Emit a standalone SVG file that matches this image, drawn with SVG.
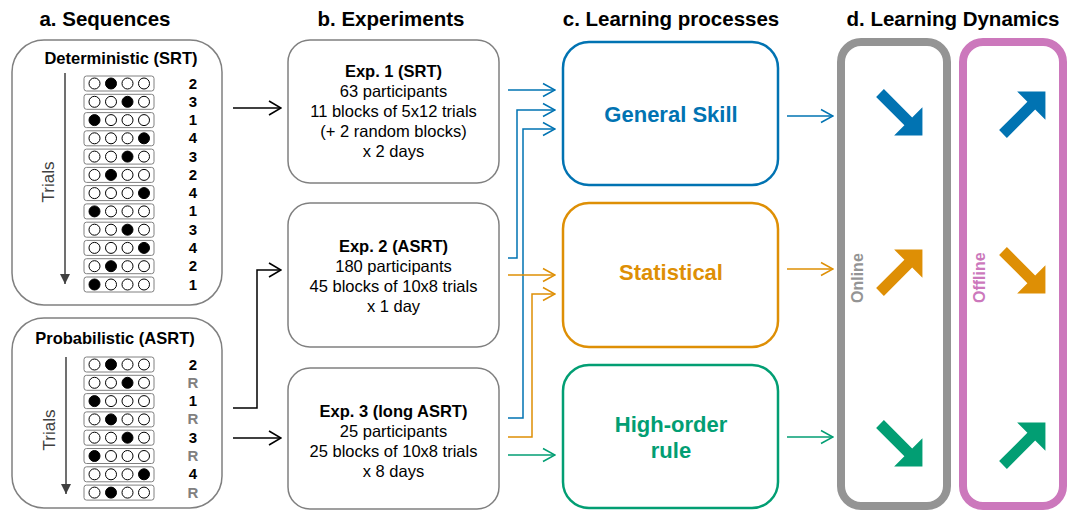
<svg xmlns="http://www.w3.org/2000/svg" xmlns:xlink="http://www.w3.org/1999/xlink" width="1067" height="511" viewBox="0 0 1067 511">
<style>
text{font-family:"Liberation Sans",Arial,sans-serif;}
.title{font-size:20.5px;font-weight:bold;text-anchor:middle;fill:#000;}
.seqbox{fill:#fff;stroke:#808080;stroke-width:1.5;}
.seqlabel{font-size:16.5px;font-weight:bold;text-anchor:middle;}
.row{fill:#fff;stroke:#808080;stroke-width:1;}
.c0{fill:#fff;stroke:#000;stroke-width:1;}
.c1{fill:#000;stroke:#000;stroke-width:1;}
.num{font-size:15px;font-weight:bold;text-anchor:middle;fill:#000;}
.r{fill:#808080;}
.trials{font-size:17px;text-anchor:middle;fill:#404040;}
.axis{stroke:#404040;stroke-width:1.5;fill:none;}
.expbox{fill:#fff;stroke:#808080;stroke-width:1.5;}
.exp{font-size:16.5px;text-anchor:middle;fill:#000;}
.expb{font-weight:bold;}
.proc{fill:#fff;stroke-width:2.5;}
.plabel{font-size:22px;font-weight:bold;text-anchor:middle;}
.conn{fill:none;stroke-width:1.5;}
.k{stroke:#000;}
.b{stroke:#0173B2;}
.o{stroke:#DE8F05;}
.g{stroke:#029E73;}
.fb{fill:#0173B2;}
.fo{fill:#DE8F05;}
.fg{fill:#029E73;}
.dyn{fill:none;stroke-width:8;}
.dlabel{font-size:16px;font-weight:bold;}
</style>
<defs>
<marker id="ak" viewBox="0 0 14 16" refX="13" refY="8" markerWidth="14" markerHeight="16" markerUnits="userSpaceOnUse" orient="auto"><path d="M1,1 L13,8 L1,15" fill="none" stroke="#000" stroke-width="1.6"/></marker>
<marker id="ab" viewBox="0 0 14 16" refX="13" refY="8" markerWidth="14" markerHeight="16" markerUnits="userSpaceOnUse" orient="auto"><path d="M1,1.5 L13,8 L1,14.5" fill="none" stroke="#0173B2" stroke-width="1.5"/></marker>
<marker id="ao" viewBox="0 0 14 16" refX="13" refY="8" markerWidth="14" markerHeight="16" markerUnits="userSpaceOnUse" orient="auto"><path d="M1,1.5 L13,8 L1,14.5" fill="none" stroke="#DE8F05" stroke-width="1.5"/></marker>
<marker id="ag" viewBox="0 0 14 16" refX="13" refY="8" markerWidth="14" markerHeight="16" markerUnits="userSpaceOnUse" orient="auto"><path d="M1,1.5 L13,8 L1,14.5" fill="none" stroke="#029E73" stroke-width="1.5"/></marker>
<path id="bigarrow" d="M0,-5.5 L40,-5.5 L40,-20 L60,0 L40,20 L40,5.5 L0,5.5 Z"/>
<g id="r1"><rect class="row" x="84" y="-7.5" width="70" height="15" rx="2.5"/><circle class="c1" cx="94.5" cy="0" r="5.5"/><circle class="c0" cx="111" cy="0" r="5.5"/><circle class="c0" cx="127.5" cy="0" r="5.5"/><circle class="c0" cx="144" cy="0" r="5.5"/></g>
<g id="r2"><rect class="row" x="84" y="-7.5" width="70" height="15" rx="2.5"/><circle class="c0" cx="94.5" cy="0" r="5.5"/><circle class="c1" cx="111" cy="0" r="5.5"/><circle class="c0" cx="127.5" cy="0" r="5.5"/><circle class="c0" cx="144" cy="0" r="5.5"/></g>
<g id="r3"><rect class="row" x="84" y="-7.5" width="70" height="15" rx="2.5"/><circle class="c0" cx="94.5" cy="0" r="5.5"/><circle class="c0" cx="111" cy="0" r="5.5"/><circle class="c1" cx="127.5" cy="0" r="5.5"/><circle class="c0" cx="144" cy="0" r="5.5"/></g>
<g id="r4"><rect class="row" x="84" y="-7.5" width="70" height="15" rx="2.5"/><circle class="c0" cx="94.5" cy="0" r="5.5"/><circle class="c0" cx="111" cy="0" r="5.5"/><circle class="c0" cx="127.5" cy="0" r="5.5"/><circle class="c1" cx="144" cy="0" r="5.5"/></g>
<marker id="axhead" viewBox="0 0 10 10" refX="5" refY="10" markerWidth="10" markerHeight="10" markerUnits="userSpaceOnUse" orient="0"><path d="M0,0 L10,0 L5,10 Z" fill="#404040"/></marker>
</defs>
<rect width="1067" height="511" fill="#fff"/>

<g id="titles">
<text class="title" x="105" y="26">a. Sequences</text>
<text class="title" x="391" y="26">b. Experiments</text>
<text class="title" x="671" y="26">c. Learning processes</text>
<text class="title" x="953" y="26">d. Learning Dynamics</text>
</g>

<g id="seq-deterministic">
<rect class="seqbox" x="12" y="40" width="210" height="265" rx="32"/>
<text class="seqlabel" x="121" y="64">Deterministic (SRT)</text>
<path class="axis" d="M65,73 V284" marker-end="url(#axhead)"/>
<text class="trials" transform="translate(54,182) rotate(-90)">Trials</text>
<use href="#r2" y="83.5"/><text class="num" x="193" y="88.5">2</text>
<use href="#r3" y="101.8"/><text class="num" x="193" y="106.8">3</text>
<use href="#r1" y="120.1"/><text class="num" x="193" y="125.1">1</text>
<use href="#r4" y="138.3"/><text class="num" x="193" y="143.3">4</text>
<use href="#r3" y="156.6"/><text class="num" x="193" y="161.6">3</text>
<use href="#r2" y="174.9"/><text class="num" x="193" y="179.9">2</text>
<use href="#r4" y="193.1"/><text class="num" x="193" y="198.1">4</text>
<use href="#r1" y="211.4"/><text class="num" x="193" y="216.4">1</text>
<use href="#r3" y="229.7"/><text class="num" x="193" y="234.7">3</text>
<use href="#r4" y="247.9"/><text class="num" x="193" y="252.9">4</text>
<use href="#r2" y="266.2"/><text class="num" x="193" y="271.2">2</text>
<use href="#r1" y="284.5"/><text class="num" x="193" y="289.5">1</text>
</g>

<g id="seq-probabilistic">
<rect class="seqbox" x="12" y="318" width="210" height="190" rx="32"/>
<text class="seqlabel" x="115" y="344">Probabilistic (ASRT)</text>
<path class="axis" d="M66,357 V494" marker-end="url(#axhead)"/>
<text class="trials" transform="translate(55,430) rotate(-90)">Trials</text>
<use href="#r2" y="364.5"/><text class="num" x="193" y="369.5">2</text>
<use href="#r3" y="382.8"/><text class="num r" x="193" y="387.8">R</text>
<use href="#r1" y="401.1"/><text class="num" x="193" y="406.1">1</text>
<use href="#r2" y="419.4"/><text class="num r" x="193" y="424.4">R</text>
<use href="#r3" y="437.7"/><text class="num" x="193" y="442.7">3</text>
<use href="#r1" y="456"/><text class="num r" x="193" y="461">R</text>
<use href="#r4" y="474.3"/><text class="num" x="193" y="479.3">4</text>
<use href="#r2" y="492.6"/><text class="num r" x="193" y="497.6">R</text>
</g>

<g id="exp1">
<rect class="expbox" x="288" y="40" width="211" height="143" rx="22"/>
<text class="exp expb" x="393.5" y="77">Exp. 1 (SRT)</text>
<text class="exp" x="393.5" y="97">63 participants</text>
<text class="exp" x="393.5" y="117">11 blocks of 5x12 trials</text>
<text class="exp" x="393.5" y="137">(+ 2 random blocks)</text>
<text class="exp" x="393.5" y="157">x 2 days</text>
</g>
<g id="exp2">
<rect class="expbox" x="288" y="203" width="211" height="144" rx="22"/>
<text class="exp expb" x="393.5" y="252">Exp. 2 (ASRT)</text>
<text class="exp" x="393.5" y="272">180 participants</text>
<text class="exp" x="393.5" y="292">45 blocks of 10x8 trials</text>
<text class="exp" x="393.5" y="312">x 1 day</text>
</g>
<g id="exp3">
<rect class="expbox" x="288" y="368" width="211" height="141" rx="22"/>
<text class="exp expb" x="393.5" y="417">Exp. 3 (long ASRT)</text>
<text class="exp" x="393.5" y="437">25 participants</text>
<text class="exp" x="393.5" y="457">25 blocks of 10x8 trials</text>
<text class="exp" x="393.5" y="477">x 8 days</text>
</g>

<g id="proc-general">
<rect class="proc b" x="563" y="42" width="215" height="143" rx="26"/>
<text class="plabel" x="671" y="122" fill="#0173B2">General Skill</text>
</g>
<g id="proc-statistical">
<rect class="proc o" x="563" y="203" width="215" height="144" rx="26"/>
<text class="plabel" x="671" y="280" fill="#DE8F05">Statistical</text>
</g>
<g id="proc-highorder">
<rect class="proc g" x="563" y="365" width="215" height="143" rx="26"/>
<text class="plabel" x="671" y="432" fill="#029E73">High-order</text>
<text class="plabel" x="671" y="458" fill="#029E73">rule</text>
</g>

<g id="dyn-online">
<rect class="dyn" x="841" y="42" width="106" height="464" rx="20" stroke="#949494"/>
<text class="dlabel" transform="translate(863,303) rotate(-90)" fill="#949494">Online</text>
<use href="#bigarrow" class="fb" transform="translate(880,93) rotate(45)"/>
<use href="#bigarrow" class="fo" transform="translate(880,292) rotate(-45)"/>
<use href="#bigarrow" class="fg" transform="translate(880,424) rotate(45)"/>
</g>
<g id="dyn-offline">
<rect class="dyn" x="963" y="42" width="100" height="464" rx="20" stroke="#CC78BC"/>
<text class="dlabel" transform="translate(985,303) rotate(-90)" fill="#CC78BC">Offline</text>
<use href="#bigarrow" class="fb" transform="translate(1003,134) rotate(-45)"/>
<use href="#bigarrow" class="fo" transform="translate(1003,251) rotate(45)"/>
<use href="#bigarrow" class="fg" transform="translate(1003,465) rotate(-45)"/>
</g>

<g id="connectors">
<path class="conn k" d="M233,108 H281" marker-end="url(#ak)"/>
<path class="conn k" d="M233,408 H257 V270 H281" marker-end="url(#ak)"/>
<path class="conn k" d="M233,438 H281" marker-end="url(#ak)"/>
<path class="conn b" d="M508,90 H555" marker-end="url(#ab)"/>
<path class="conn b" d="M508,258 H517 V110 H555" marker-end="url(#ab)"/>
<path class="conn b" d="M508,418 H523 V129 H555" marker-end="url(#ab)"/>
<path class="conn o" d="M508,275 H555" marker-end="url(#ao)"/>
<path class="conn o" d="M508,437 H532 V294 H555" marker-end="url(#ao)"/>
<path class="conn g" d="M508,455 H555" marker-end="url(#ag)"/>
<path class="conn b" d="M787,116 H833" marker-end="url(#ab)"/>
<path class="conn o" d="M787,269 H833" marker-end="url(#ao)"/>
<path class="conn g" d="M787,437 H833" marker-end="url(#ag)"/>
</g>
</svg>
